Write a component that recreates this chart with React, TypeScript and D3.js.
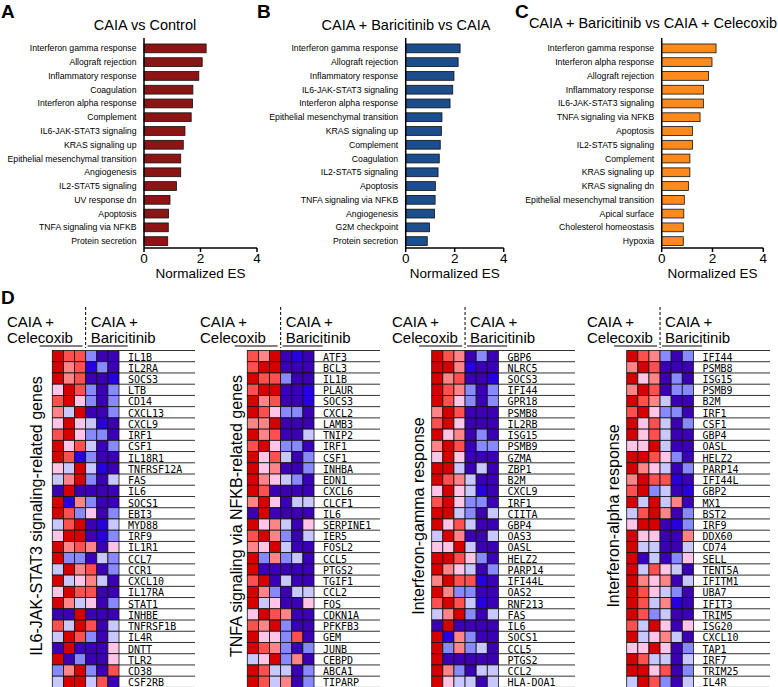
import React from 'react';
import * as d3 from 'd3';

const W = 778;
const H = 687;
const SANS = 'Liberation Sans, Arial, sans-serif';
const MONO = 'DejaVu Sans Mono, monospace';

// ---- panel A/B/C data (normalized enrichment scores) ----
const CAT_A = [
  'Interferon gamma response', 'Allograft rejection', 'Inflammatory response', 'Coagulation',
  'Interferon alpha response', 'Complement', 'IL6-JAK-STAT3 signaling', 'KRAS signaling up',
  'Epithelial mesenchymal transition', 'Angiogenesis', 'IL2-STAT5 signaling', 'UV response dn',
  'Apoptosis', 'TNFA signaling via NFKB', 'Protein secretion',
];
const VAL_A = [2.2, 2.06, 1.94, 1.73, 1.72, 1.67, 1.45, 1.39, 1.3, 1.3, 1.15, 0.92, 0.87, 0.86, 0.84];

const CAT_B = [
  'Interferon gamma response', 'Allograft rejection', 'Inflammatory response', 'IL6-JAK-STAT3 signaling',
  'Interferon alpha response', 'Epithelial mesenchymal transition', 'KRAS signaling up', 'Complement',
  'Coagulation', 'IL2-STAT5 signaling', 'Apoptosis', 'TNFA signaling via NFKB', 'Angiogenesis',
  'G2M checkpoint', 'Protein secretion',
];
const VAL_B = [2.22, 2.14, 1.97, 1.92, 1.81, 1.48, 1.46, 1.41, 1.37, 1.32, 1.21, 1.2, 1.18, 0.97, 0.88];

const CAT_C = [
  'Interferon gamma response', 'Interferon alpha response', 'Allograft rejection', 'Inflammatory response',
  'IL6-JAK-STAT3 signaling', 'TNFA signaling via NFKB', 'Apoptosis', 'IL2-STAT5 signaling', 'Complement',
  'KRAS signaling up', 'KRAS signaling dn', 'Epithelial mesenchymal transition', 'Apical surface',
  'Cholesterol homeostasis', 'Hypoxia',
];
const VAL_C = [2.14, 1.98, 1.84, 1.65, 1.64, 1.51, 1.21, 1.21, 1.11, 1.11, 1.05, 0.89, 0.87, 0.85, 0.85];

const ES_TICKS = [0, 2, 4];

// ---- panel D heatmaps: 3 celecoxib + 3 baricitinib samples, binned z-scores ----
const HM1_GENES = ['IL1B', 'IL2RA', 'SOCS3', 'LTB', 'CD14', 'CXCL13', 'CXCL9', 'IRF1', 'CSF1', 'IL18R1',
  'TNFRSF12A', 'FAS', 'IL6', 'SOCS1', 'EBI3', 'MYD88', 'IRF9', 'IL1R1', 'CCL7', 'CCR1', 'CXCL10',
  'IL17RA', 'STAT1', 'INHBE', 'TNFRSF1B', 'IL4R', 'DNTT', 'TLR2', 'CD38', 'CSF2RB'];
const HM1_VALUES = [
  [4, 3, 3, -2, -4, -4], [4, 2, 3, -3, -2, -4], [4, 2, 3, -4, -4, -3], [1, 4, 3, -2, -4, -2],
  [3, 4, 1, -2, -4, -2], [2, -1, 4, -4, -4, -2], [1, 4, 1, -1, -3, -4], [3, 4, 1, -2, -2, -4],
  [4, 1, 3, -1, -4, -2], [4, 3, -3, -2, -4, -4], [1, -1, 4, -1, -3, -4], [-1, 2, 4, -2, -4, -1],
  [-4, 4, -4, -4, -4, -4], [4, -3, 2, -2, -4, -4], [4, 3, -2, 1, -4, -2], [-1, 3, 4, -4, -3, -1],
  [1, 4, 4, -4, -3, -2], [4, 2, 3, 2, -4, 1], [4, -2, -2, -4, -1, -2], [-1, 4, 2, 3, -4, -2],
  [4, -1, 1, 2, -1, -4], [1, 4, 3, 3, -4, -4], [4, 2, -1, 1, -4, -2], [-4, -4, 4, -4, -4, -4],
  [3, -1, 4, 3, -4, -1], [-1, 4, 3, -2, -4, -1], [-4, 4, -4, -4, -4, 1], [4, -4, -2, -4, -4, 1],
  [-2, 2, 4, -2, -4, 3], [-1, 4, 4, -1, 3, -4],
];

const HM2_GENES = ['ATF3', 'BCL3', 'IL1B', 'PLAUR', 'SOCS3', 'CXCL2', 'LAMB3', 'TNIP2', 'IRF1', 'CSF1',
  'INHBA', 'EDN1', 'CXCL6', 'CLCF1', 'IL6', 'SERPINE1', 'IER5', 'FOSL2', 'CCL5', 'PTGS2', 'TGIF1',
  'CCL2', 'FOS', 'CDKN1A', 'PFKFB3', 'GEM', 'JUNB', 'CEBPD', 'ABCA1', 'TIPARP'];
const HM2_VALUES = [
  [3, 2, 4, -4, -3, -4], [3, 4, 4, -4, -4, -4], [4, 3, 3, -2, -4, -4], [3, 4, 4, -4, -4, -3],
  [4, 2, 3, -4, -4, -3], [4, 3, 1, -2, -2, -4], [2, 2, 4, -4, -4, -4], [4, 2, 3, -4, -4, -1],
  [3, 4, 1, -2, -2, -4], [4, 1, 3, -1, -4, -2], [4, 1, 2, -4, -4, -2], [4, 2, 1, -1, -2, -4],
  [4, 3, -4, -4, -4, -4], [2, 4, 1, -4, -1, -1], [-4, 4, -4, -4, -4, -4], [4, 1, 2, -1, -4, 1],
  [3, 4, 2, -2, -4, -1], [2, 1, 4, -1, -4, -4], [4, -2, 2, -2, -1, -4], [4, -4, -4, -4, -4, -4],
  [3, 4, -4, -1, -4, -4], [4, 2, -2, -4, -1, -1], [4, -1, 1, -4, -4, 1], [1, 4, 3, 2, -4, -4],
  [3, 2, 4, -2, -4, -4], [4, 1, 1, -2, 3, -4], [4, 3, 2, -2, -4, -2], [-1, 1, 4, -2, 2, -4],
  [4, 3, -1, -1, -4, -2], [4, 3, -1, 2, -4, -2],
];

const HM3_GENES = ['GBP6', 'NLRC5', 'SOCS3', 'IFI44', 'GPR18', 'PSMB8', 'IL2RB', 'ISG15', 'PSMB9', 'GZMA',
  'ZBP1', 'B2M', 'CXCL9', 'IRF1', 'CIITA', 'GBP4', 'OAS3', 'OASL', 'HELZ2', 'PARP14', 'IFI44L', 'OAS2',
  'RNF213', 'FAS', 'IL6', 'SOCS1', 'CCL5', 'PTGS2', 'CCL2', 'HLA-DOA1'];
const HM3_VALUES = [
  [4, 3, 2, -4, -2, -4], [4, 4, 2, -3, -4, -4], [4, 2, 3, -4, -4, -3], [4, 3, 2, -2, -4, -2],
  [4, 3, 1, -2, -4, -2], [2, 4, 3, -4, -4, -4], [3, 4, 1, -4, -4, -4], [4, 1, 2, -4, -2, -4],
  [2, 4, 3, -4, -2, -2], [1, 4, 1, -4, -4, -4], [4, 4, -1, -4, -1, -4], [4, 3, 2, -1, -4, -4],
  [1, 4, 1, -1, -3, -4], [3, 4, 1, -2, -2, -4], [4, 4, -1, -2, -4, -1], [4, 1, 3, -1, -4, -4],
  [-1, 4, 2, -4, -4, -1], [1, 1, 4, -1, -4, -4], [4, 4, 3, 1, -2, -4], [4, 2, 1, -1, -4, -2],
  [2, 4, 3, 3, -3, -4], [4, 2, -2, -2, -4, -4], [3, 4, 3, -1, -3, -4], [-1, 2, 4, -2, -4, -1],
  [-4, 4, -4, -4, -4, -4], [4, -3, 2, -2, -4, -4], [4, -2, 2, -2, -1, -4], [4, -4, -4, -4, -4, -4],
  [4, 2, -2, -4, -1, -1], [4, 1, -1, -1, -4, -1],
];

const HM4_GENES = ['IFI44', 'PSMB8', 'ISG15', 'PSMB9', 'B2M', 'IRF1', 'CSF1', 'GBP4', 'OASL', 'HELZ2',
  'PARP14', 'IFI44L', 'GBP2', 'MX1', 'BST2', 'IRF9', 'DDX60', 'CD74', 'SELL', 'TENT5A', 'IFITM1', 'UBA7',
  'IFIT3', 'TRIM5', 'ISG20', 'CXCL10', 'TAP1', 'IRF7', 'TRIM25', 'IL4R'];
const HM4_VALUES = [
  [4, 3, 2, -2, -4, -2], [2, 4, 3, -4, -4, -4], [4, 1, 2, -4, -2, -4], [2, 4, 3, -4, -2, -2],
  [4, 3, 2, -1, -4, -4], [3, 4, 1, -2, -2, -4], [4, 1, 3, -1, -4, -2], [4, 1, 3, -1, -4, -4],
  [1, 1, 4, -1, -4, -4], [4, 4, 3, 1, -2, -4], [4, 2, 1, -1, -4, -2], [2, 4, 3, 3, -3, -4],
  [3, 4, -2, -1, -4, -3], [4, -1, 4, -1, 2, -4], [-1, 3, 4, 2, -4, -2], [1, 4, 4, -4, -3, -2],
  [4, 1, 1, -4, -4, 2], [4, -1, -1, -4, -4, -1], [4, -4, -1, -4, -2, 1], [4, -1, 3, 1, -1, -4],
  [4, 2, 1, 2, -4, -1], [4, 3, 1, -1, -2, -4], [4, 3, -1, 2, -3, -4], [4, 3, -2, -1, -4, -4],
  [3, -1, 4, 1, -4, 1], [4, -1, 1, 2, -1, -4], [1, 1, 4, 1, -4, -2], [4, 3, -1, -1, -4, -1],
  [4, 4, 1, 3, -4, -2], [-1, 4, 3, -2, -4, -1],
];

const color = d3
  .scaleLinear<string>()
  .domain([-4, -3, -2, -1, 0, 1, 2, 3, 4])
  .range(['#3c00b4', '#2800e0', '#8888ff', '#c8c8ff', '#ffffff', '#ffc4e6', '#ff8488', '#ff4f4f', '#d60000']);

function BarPanel({ letter, letterX, title, titleX, titleY, cats, vals, x0, x1, fill }) {
  const x = d3.scaleLinear().domain([0, 4]).range([x0, x1]);
  const y = d3.scaleBand<string>().domain(cats).range([41.5, 248]).paddingInner(0.36).paddingOuter(0.18);
  const axisY = 248;
  return (
    <g>
      <text x={letterX} y={18} fontFamily={SANS} fontWeight="bold" fontSize={19}>{letter}</text>
      <text x={titleX} y={titleY} textAnchor="middle" fontFamily={SANS} fontSize={14.5}>{title}</text>
      {cats.map((c, i) => (
        <g key={c}>
          <rect x={x(0)} y={y(c)} width={x(vals[i]) - x(0)} height={y.bandwidth()} fill={fill} stroke="#111" strokeWidth={0.8} />
          <text x={x(0) - 7.5} y={(y(c) ?? 0) + y.bandwidth() / 2 + 3} textAnchor="end" fontFamily={SANS} fontSize={8.7}>{c}</text>
        </g>
      ))}
      <line x1={x(0)} x2={x(0)} y1={38} y2={axisY} stroke="#000" strokeWidth={1.5} />
      <line x1={x(0)} x2={x(4)} y1={axisY} y2={axisY} stroke="#000" strokeWidth={1.5} />
      {ES_TICKS.map((t) => (
        <g key={t}>
          <line x1={x(t)} x2={x(t)} y1={axisY} y2={axisY + 4} stroke="#000" strokeWidth={1.5} />
          <text x={x(t)} y={263} textAnchor="middle" fontFamily={SANS} fontSize={13.5}>{t}</text>
        </g>
      ))}
      <text x={(x0 + x1) / 2} y={278} textAnchor="middle" fontFamily={SANS} fontSize={13.5}>Normalized ES</text>
    </g>
  );
}

function HeatPanel({ genes, values, x0, lineEnd, sideLabel, sideX, headX }) {
  const cols = d3.range(6);
  const x = d3.scaleBand<number>().domain(cols).range([x0, x0 + 66.7]);
  const y = d3.scaleBand<string>().domain(genes).range([350.5, 350.5 + genes.length * 11.23]);
  const right = x0 + 66.7;
  const dash = x(3) ?? 0;
  return (
    <g>
      <text transform={`translate(${sideX},516) rotate(-90)`} textAnchor="middle" fontFamily={SANS} fontSize={16}>{sideLabel}</text>
      <text x={headX} y={327} fontFamily={SANS} fontSize={15}>CAIA +</text>
      <text x={headX} y={343} fontFamily={SANS} fontSize={15}>Celecoxib</text>
      <text x={dash + 5} y={327} fontFamily={SANS} fontSize={15}>CAIA +</text>
      <text x={dash + 5} y={343} fontFamily={SANS} fontSize={15}>Baricitinib</text>
      <line x1={dash} x2={dash} y1={307} y2={348} stroke="#000" strokeWidth={1} strokeDasharray="3,2" />
      <line x1={dash - 46} x2={dash - 3} y1={346} y2={346} stroke="#000" strokeWidth={1} />
      <line x1={dash + 2} x2={dash + 42} y1={346} y2={346} stroke="#000" strokeWidth={1} />
      {genes.map((g, r) => (
        <g key={g}>
          {cols.map((c) => (
            <rect key={c} x={x(c)} y={y(g)} width={x.bandwidth()} height={y.bandwidth()}
              fill={color(values[r][c])} stroke="#111" strokeWidth={0.8} />
          ))}
          <line x1={right} x2={lineEnd} y1={(y(g) ?? 0) + y.bandwidth()} y2={(y(g) ?? 0) + y.bandwidth()} stroke="#333" strokeWidth={1} />
          <text x={right + 9} y={(y(g) ?? 0) + y.bandwidth() - 1.2} fontFamily={MONO} fontSize={10}>{g}</text>
        </g>
      ))}
      <line x1={right} x2={lineEnd} y1={350.5} y2={350.5} stroke="#333" strokeWidth={1} />
    </g>
  );
}

export default function App() {
  return (
    <svg width={W} height={H} viewBox={`0 0 ${W} ${H}`} style={{ position: 'absolute', left: 0, top: 0, background: '#fff' }}>
      <BarPanel letter="A" letterX={1} title="CAIA vs Control" titleX={145} titleY={30}
        cats={CAT_A} vals={VAL_A} x0={144} x1={257} fill="#8c1414" />
      <BarPanel letter="B" letterX={257} title="CAIA + Baricitinib vs CAIA" titleX={406} titleY={30}
        cats={CAT_B} vals={VAL_B} x0={405.7} x1={503.7} fill="#1c4d8c" />
      <BarPanel letter="C" letterX={515} title="CAIA + Baricitinib vs CAIA + Celecoxib" titleX={653} titleY={28}
        cats={CAT_C} vals={VAL_C} x0={661.7} x1={763.3} fill="#ff8a1c" />
      <text x={1} y={304} fontFamily={SANS} fontWeight="bold" fontSize={19}>D</text>
      <HeatPanel genes={HM1_GENES} values={HM1_VALUES} x0={52.3} lineEnd={195} sideX={41.5} headX={7}
        sideLabel="IL6-JAK-STAT3 signaling-related genes" />
      <HeatPanel genes={HM2_GENES} values={HM2_VALUES} x0={247.3} lineEnd={380} sideX={241.5} headX={200}
        sideLabel="TNFA signaling via NFKB-related genes" />
      <HeatPanel genes={HM3_GENES} values={HM3_VALUES} x0={431.7} lineEnd={575} sideX={423.5} headX={392}
        sideLabel="Interferon-gamma response" />
      <HeatPanel genes={HM4_GENES} values={HM4_VALUES} x0={626.7} lineEnd={770} sideX={618.5} headX={587}
        sideLabel="Interferon-alpha response" />
    </svg>
  );
}
